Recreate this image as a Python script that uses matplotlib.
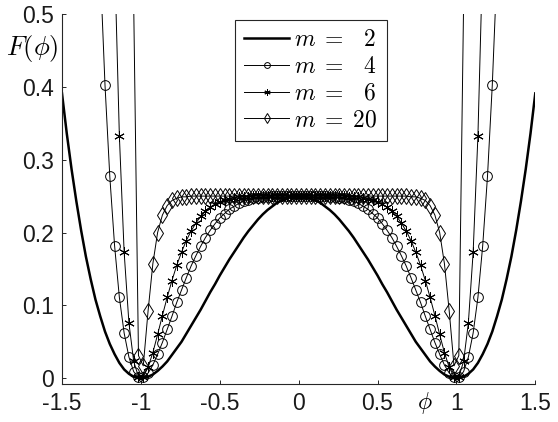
import matplotlib
matplotlib.use('Agg')
import matplotlib.pyplot as plt

# phi grid of the markers (100 points from -1.5 to 1.5)
phi = [-1.5, -1.4697, -1.4394, -1.4091, -1.3788, -1.3485, -1.3182, -1.2879, -1.2576, -1.2273,
       -1.1970, -1.1667, -1.1364, -1.1061, -1.0758, -1.0455, -1.0152, -0.9848, -0.9545, -0.9242,
       -0.8939, -0.8636, -0.8333, -0.8030, -0.7727, -0.7424, -0.7121, -0.6818, -0.6515, -0.6212,
       -0.5909, -0.5606, -0.5303, -0.5, -0.4697, -0.4394, -0.4091, -0.3788, -0.3485, -0.3182,
       -0.2879, -0.2576, -0.2273, -0.1970, -0.1667, -0.1364, -0.1061, -0.0758, -0.0455, -0.0152,
       0.0152, 0.0455, 0.0758, 0.1061, 0.1364, 0.1667, 0.1970, 0.2273, 0.2576, 0.2879,
       0.3182, 0.3485, 0.3788, 0.4091, 0.4394, 0.4697, 0.5, 0.5303, 0.5606, 0.5909,
       0.6212, 0.6515, 0.6818, 0.7121, 0.7424, 0.7727, 0.8030, 0.8333, 0.8636, 0.8939,
       0.9242, 0.9545, 0.9848, 1.0152, 1.0455, 1.0758, 1.1061, 1.1364, 1.1667, 1.1970,
       1.2273, 1.2576, 1.2879, 1.3182, 1.3485, 1.3788, 1.4091, 1.4394, 1.4697, 1.5]

F_m2 = [0.391, 0.336, 0.287, 0.243, 0.203, 0.167, 0.136, 0.108, 0.085, 0.064,
        0.047, 0.033, 0.021, 0.012, 0.006, 0.002, 0.000, 0.000, 0.002, 0.005,
        0.010, 0.016, 0.023, 0.032, 0.041, 0.050, 0.061, 0.072, 0.083, 0.094,
        0.106, 0.118, 0.129, 0.141, 0.152, 0.163, 0.173, 0.183, 0.193, 0.202,
        0.210, 0.218, 0.225, 0.231, 0.236, 0.241, 0.244, 0.247, 0.249, 0.250,
        0.250, 0.249, 0.247, 0.244, 0.241, 0.236, 0.231, 0.225, 0.218, 0.210,
        0.202, 0.193, 0.183, 0.173, 0.163, 0.152, 0.141, 0.129, 0.118, 0.106,
        0.094, 0.083, 0.072, 0.061, 0.050, 0.041, 0.032, 0.023, 0.016, 0.010,
        0.005, 0.002, 0.000, 0.000, 0.002, 0.006, 0.012, 0.021, 0.033, 0.047,
        0.064, 0.085, 0.108, 0.136, 0.167, 0.203, 0.243, 0.287, 0.336, 0.391]

# m = 4 starts at phi[8]
F_m4 = [0.563, 0.402, 0.277, 0.182, 0.111, 0.062, 0.029, 0.009, 0.001, 0.001,
        0.007, 0.018, 0.033, 0.049, 0.067, 0.085, 0.104, 0.121, 0.138, 0.154,
        0.168, 0.181, 0.193, 0.203, 0.212, 0.220, 0.226, 0.232, 0.236, 0.240,
        0.243, 0.245, 0.247, 0.248, 0.249, 0.249, 0.250, 0.250, 0.250, 0.250,
        0.250, 0.250,
        0.250, 0.250, 0.250, 0.250, 0.250, 0.250, 0.249, 0.249, 0.248, 0.247,
        0.245, 0.243, 0.240, 0.236, 0.232, 0.226, 0.220, 0.212, 0.203, 0.193,
        0.181, 0.168, 0.154, 0.138, 0.121, 0.104, 0.085, 0.067, 0.049, 0.033,
        0.018, 0.007, 0.001, 0.001, 0.009, 0.029, 0.062, 0.111, 0.182, 0.277,
        0.402, 0.563]

# m = 6 starts at phi[11]
F_m6 = [0.579, 0.333, 0.173, 0.076, 0.023, 0.002, 0.002, 0.015, 0.035, 0.060,
        0.086, 0.111, 0.134, 0.155, 0.173, 0.189, 0.202, 0.213, 0.222, 0.229,
        0.235, 0.239, 0.242, 0.245, 0.246, 0.248, 0.249, 0.249, 0.249, 0.250,
        0.250, 0.250, 0.250, 0.250, 0.250, 0.250, 0.250, 0.250, 0.250,
        0.250, 0.250, 0.250, 0.250, 0.250, 0.250, 0.250, 0.250, 0.250, 0.250,
        0.249, 0.249, 0.249, 0.248, 0.246, 0.245, 0.242, 0.239, 0.235, 0.229,
        0.222, 0.213, 0.202, 0.189, 0.173, 0.155, 0.134, 0.111, 0.086, 0.060,
        0.035, 0.015, 0.002, 0.002, 0.023, 0.076, 0.173, 0.333, 0.579]

# m = 20 starts at phi[15]
F_m20 = [0.513, 0.031, 0.017, 0.092, 0.157, 0.200, 0.224, 0.237, 0.244, 0.247,
         0.249, 0.249, 0.250, 0.250, 0.250, 0.250, 0.250, 0.250, 0.250, 0.250,
         0.250, 0.250, 0.250, 0.250, 0.250, 0.250, 0.250, 0.250, 0.250, 0.250,
         0.250, 0.250, 0.250, 0.250, 0.250,
         0.250, 0.250, 0.250, 0.250, 0.250, 0.250, 0.250, 0.250, 0.250, 0.250,
         0.250, 0.250, 0.250, 0.250, 0.250, 0.250, 0.250, 0.250, 0.250, 0.250,
         0.250, 0.250, 0.250, 0.249, 0.249, 0.247, 0.244, 0.237, 0.224, 0.200,
         0.157, 0.092, 0.017, 0.031, 0.513]

series_start = {'m4': 8, 'm6': 11, 'm20': 15}
labels = [r'$m\;=\;\enspace 2$', r'$m\;=\;\enspace 4$', r'$m\;=\;\enspace 6$', r'$m\;=\;20$']

x_ticks = [-1.5, -1, -0.5, 0, 0.5, 1, 1.5]
x_ticklabels = ['-1.5', '-1', '-0.5', '0', '0.5', '1', '1.5']
y_ticks = [0, 0.1, 0.2, 0.3, 0.4, 0.5]
y_ticklabels = ['0', '0.1', '0.2', '0.3', '0.4', '0.5']

plt.rcParams['font.family'] = ['Liberation Sans', 'DejaVu Sans']
plt.rcParams['mathtext.fontset'] = 'cm'
plt.rcParams['axes.unicode_minus'] = False

fig = plt.figure(figsize=(5.58, 4.22), dpi=100)
ax = fig.add_axes([0.1111, 0.0900, 0.8482, 0.8768])

axis_col = '#262626'
ax.plot(phi, F_m2, '-', color='k', lw=1.8, label=labels[0])

s = series_start['m4']
ax.plot(phi[s:s + len(F_m4)], F_m4, '-', color='k', lw=0.7,
        marker='o', ms=7, mfc='none', mec='k', mew=0.7, label=labels[1])
s = series_start['m6']
ax.plot(phi[s:s + len(F_m6)], F_m6, '-', color='k', lw=0.7,
        marker=(6, 2, 0), ms=7.5, mec='k', mew=0.7, label=labels[2])
s = series_start['m20']
ax.plot(phi[s:s + len(F_m20)], F_m20, '-', color='k', lw=0.7,
        marker='d', ms=8, mfc='none', mec='k', mew=0.7, label=labels[3])

ax.set_xlim(-1.5, 1.5)
ax.set_ylim(-0.008, 0.5)
ax.set_xticks(x_ticks)
ax.set_xticklabels(x_ticklabels)
ax.set_yticks(y_ticks)
ax.set_yticklabels(y_ticklabels)
ax.tick_params(direction='in', length=3, width=0.7, color=axis_col,
               labelsize=16.5, labelcolor='#1a1a1a')
ax.tick_params(axis='x', pad=6)
ax.tick_params(axis='y', pad=6)

for side in ['top', 'right']:
    ax.spines[side].set_visible(False)
for side in ['left', 'bottom']:
    ax.spines[side].set_color(axis_col)
    ax.spines[side].set_linewidth(0.8)

leg = ax.legend(loc='upper left', bbox_to_anchor=(0.3655, 0.9838),
                borderaxespad=0, fontsize=17, fancybox=False,
                edgecolor=axis_col, framealpha=1, handlelength=1.9,
                handletextpad=0.2, labelspacing=0.2, borderpad=0.4,
                markerscale=0.6)
leg.get_frame().set_linewidth(0.8)

fig.text(0.057, 0.884, r'$F(\phi)$', fontsize=19, ha='center', va='center')
fig.text(0.762, 0.045, r'$\phi$', fontsize=17, ha='center', va='center')

fig.savefig('out.png', dpi=100)
